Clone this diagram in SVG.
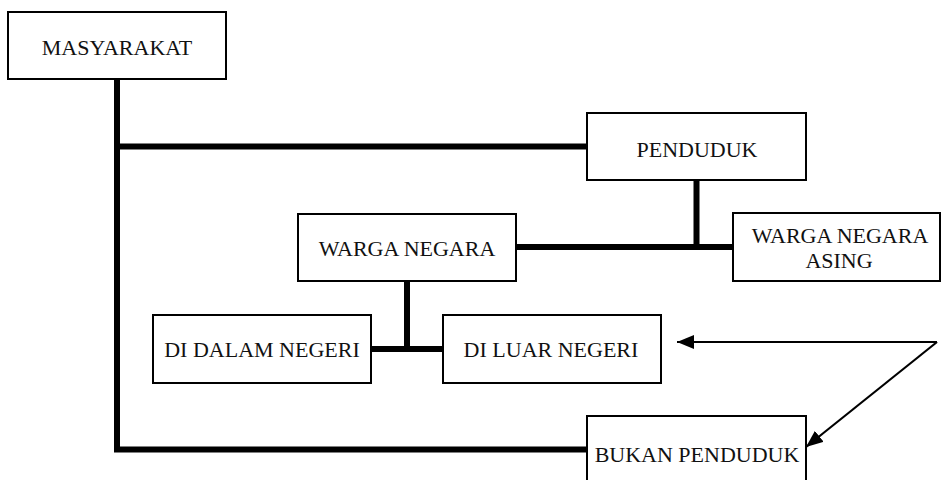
<svg xmlns="http://www.w3.org/2000/svg" width="941" height="480" viewBox="0 0 941 480">
<style>
.box{fill:#fff;stroke:#000;stroke-width:2}
.lbl{font-family:"Liberation Serif","Times New Roman",serif;font-size:22px;fill:#111;text-anchor:middle}
.thick{stroke:#000;stroke-width:6;fill:none;stroke-linecap:butt}
.thin{stroke:#000;stroke-width:2.2;fill:none}
</style>
<defs>
<marker id="ah" markerWidth="18" markerHeight="14" refX="17" refY="7" orient="auto" markerUnits="userSpaceOnUse">
<path d="M0,0 L17,7 L0,14 Z" fill="#000"/>
</marker>
</defs>
<g id="connectors">
<path class="thick" d="M117,79 V452.5 M114,146.5 H588 M114,449.5 H588"/>
<path class="thick" d="M696.5,180 V250 M516,247 H733"/>
<path class="thick" d="M407,281 V352 M371,349 H443"/>
<path class="thin" d="M937,342 H677" marker-end="url(#ah)"/>
<path class="thin" d="M937,342 L806,447" marker-end="url(#ah)"/>
</g>
<g id="masyarakat"><rect class="box" x="8" y="12" width="218" height="67"/><text class="lbl" x="117" y="55">MASYARAKAT</text></g>
<g id="penduduk"><rect class="box" x="587" y="113" width="219" height="67"/><text class="lbl" x="697" y="157">PENDUDUK</text></g>
<g id="warga-negara-asing"><rect class="box" x="733" y="213" width="207" height="68"/><text class="lbl" x="840" y="243">WARGA NEGARA</text><text class="lbl" x="839" y="268">ASING</text></g>
<g id="warga-negara"><rect class="box" x="298" y="214" width="218" height="67"/><text class="lbl" x="407" y="256">WARGA NEGARA</text></g>
<g id="di-dalam-negeri"><rect class="box" x="153" y="315" width="218" height="68"/><text class="lbl" x="262" y="357">DI DALAM NEGERI</text></g>
<g id="di-luar-negeri"><rect class="box" x="443" y="315" width="218" height="68"/><text class="lbl" x="551" y="357">DI LUAR NEGERI</text></g>
<g id="bukan-penduduk"><rect class="box" x="587" y="416" width="219" height="70"/><text class="lbl" x="697" y="462">BUKAN PENDUDUK</text></g>
</svg>
